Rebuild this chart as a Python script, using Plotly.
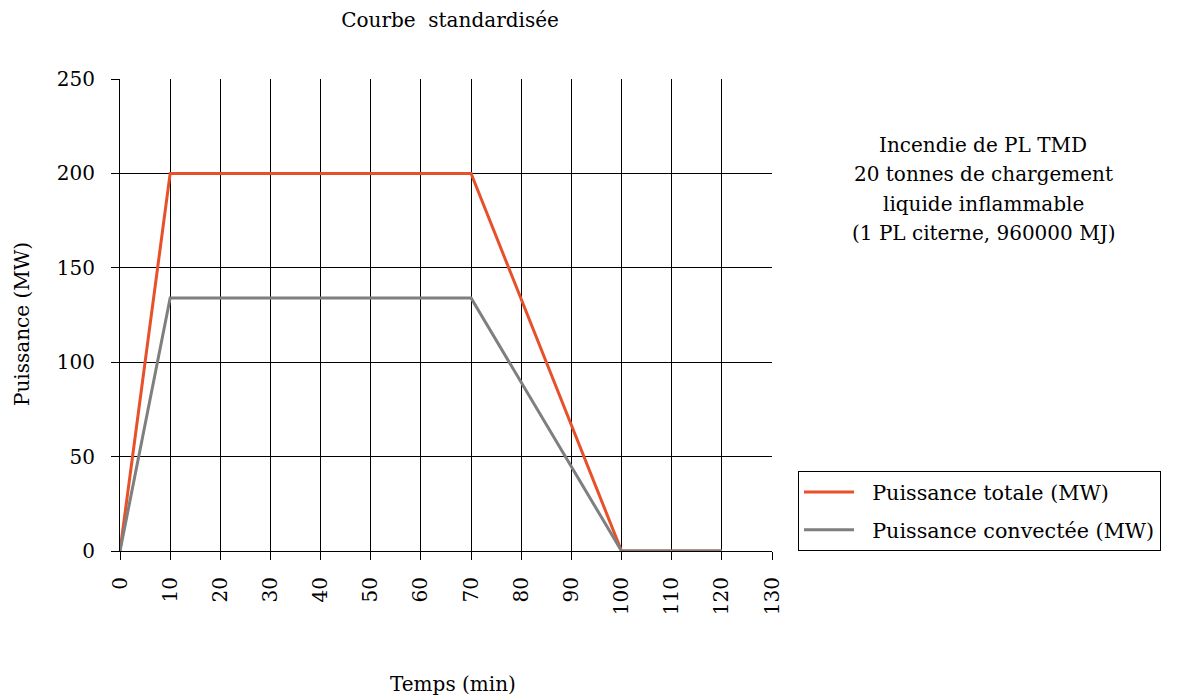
import plotly.graph_objects as go

temps = [0, 10, 70, 100, 120]
puissance_totale = [0, 200, 200, 0, 0]
puissance_convectee = [0, 134, 134, 0, 0]
x_ticks = list(range(0, 131, 10))
y_ticks = [0, 50, 100, 150, 200, 250]
note_lines = ["Incendie de PL TMD", "20 tonnes de chargement",
              "liquide inflammable", "(1 PL citerne, 960000 MJ)"]

FONT = "DejaVu Serif"
L, R, T, B = 120, 413, 79, 149
W, H = 1185, 700
PW, PH = W - L - R, H - T - B

def px_x(px):
    return (px - L) / PW

def px_y(py):
    return (H - B - py) / PH

PAD = "&nbsp;&nbsp;"

fig = go.Figure()
fig.add_trace(go.Scatter(x=temps, y=puissance_totale, mode="lines",
                         name=PAD + "Puissance totale (MW)", legendgroup="a",
                         line=dict(color="#E8502A", width=3)))
fig.add_trace(go.Scatter(x=temps, y=puissance_convectee, mode="lines",
                         name=PAD + "Puissance convectée (MW)", legendgroup="b",
                         line=dict(color="#7F7F7F", width=3)))

annotations = []
for i, line in enumerate(note_lines):
    annotations.append(dict(text=line, xref="paper", yref="paper",
                            x=px_x(983), y=px_y(145 + i * 29.3),
                            xanchor="center", yanchor="middle", showarrow=False,
                            font=dict(size=20)))
annotations.append(dict(text="Temps (min)", xref="paper", yref="paper",
                        x=px_x(453), y=px_y(684), xanchor="center", yanchor="middle",
                        showarrow=False, font=dict(size=20)))
annotations.append(dict(text="Puissance (MW)", xref="paper", yref="paper",
                        x=px_x(22), y=px_y(324), xanchor="center", yanchor="middle",
                        textangle=-90, showarrow=False, font=dict(size=20)))

fig.update_layout(
    width=W, height=H,
    margin=dict(l=L, r=R, t=T, b=B, autoexpand=False),
    paper_bgcolor="white", plot_bgcolor="white",
    font=dict(family=FONT, size=20, color="black"),
    title=dict(text="Courbe  standardisée", x=450/W, xanchor="center",
               y=1 - 20/H, yanchor="middle", font=dict(size=20)),
    showlegend=True,
    legend=dict(x=px_x(798), xanchor="left", y=0, yanchor="bottom",
                bordercolor="black", borderwidth=1, bgcolor="white",
                font=dict(size=20.7), traceorder="grouped", tracegroupgap=8,
                itemwidth=50),
    annotations=annotations,
)
fig.update_xaxes(range=[0, 130], tickvals=x_ticks, ticktext=[str(v) for v in x_ticks],
                 tickangle=-90, showgrid=True, gridcolor="black", gridwidth=1,
                 ticks="outside", ticklen=8, tickcolor="black", showline=True,
                 linecolor="black", linewidth=1, zeroline=False, automargin=False,
                 ticklabelstandoff=9)
fig.update_yaxes(range=[0, 250], tickvals=y_ticks, showgrid=True, gridcolor="black",
                 gridwidth=1, ticks="outside", ticklen=8, tickcolor="black",
                 showline=True, linecolor="black", linewidth=1, zeroline=False,
                 automargin=False, ticklabelstandoff=12)

fig.write_html("out.html", config={"displayModeBar": False},
               post_script="document.body.style.margin='0';")
